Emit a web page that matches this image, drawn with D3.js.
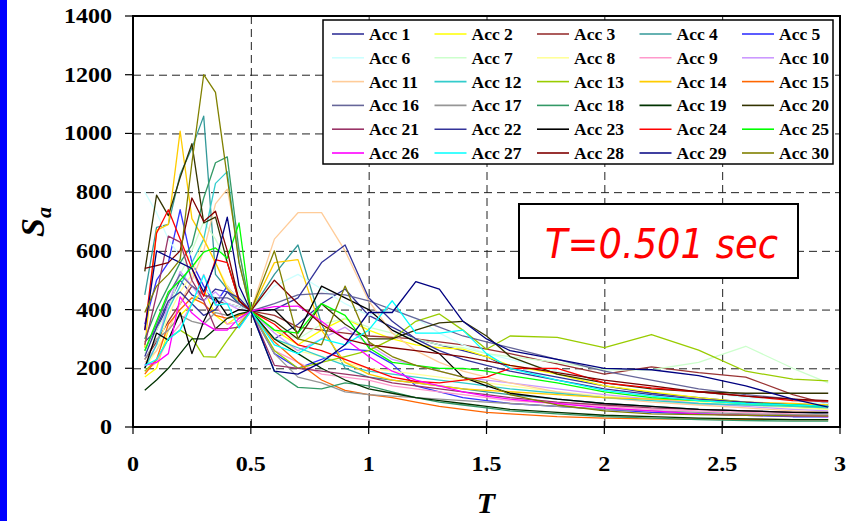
<!DOCTYPE html>
<html>
<head>
<meta charset="utf-8">
<script src="https://cdn.jsdelivr.net/npm/d3@7"></script>
<style>
  body { margin: 0; background: #fff; }
  svg { display: block; }
</style>
</head>
<body>
<svg id="chart" width="846" height="521"></svg>
<script>
// Periods (sec)
const periods = [0.05, 0.1, 0.15, 0.2, 0.25, 0.3, 0.35, 0.4, 0.45, 0.5,
                 0.6, 0.7, 0.8, 0.9, 1.0, 1.1, 1.2, 1.3, 1.4, 1.5,
                 1.6, 1.8, 2.0, 2.2, 2.4, 2.6, 2.8, 2.95];

const seriesNames = d3.range(1, 31).map(i => "Acc " + i);

const seriesColors = [
  "#333399", "#FFFF00", "#993333", "#339999", "#3333FF",
  "#CCFFFF", "#CCFFCC", "#FFFF99", "#FF99CC", "#CC99FF",
  "#FFCC99", "#33CCCC", "#99CC00", "#FFCC00", "#FF6600",
  "#666699", "#969696", "#339966", "#003300", "#333300",
  "#993366", "#333399", "#000000", "#FF0000", "#00FF00",
  "#FF00FF", "#00FFFF", "#800000", "#000080", "#808000"
];

// spectral accelerations, one row per record, scaled to match at T=0.501
const sa = [
  [290, 330, 420, 500, 450, 430, 470, 460, 420, 395, 300, 350, 420, 470, 380, 340, 300, 280, 260, 240, 200, 170, 140, 115, 100, 85, 75, 70],
  [170, 200, 330, 380, 420, 470, 380, 350, 380, 395, 330, 280, 330, 370, 330, 300, 280, 270, 265, 240, 210, 180, 140, 120, 100, 85, 70, 60],
  [230, 290, 360, 420, 480, 450, 430, 420, 410, 395, 380, 340, 330, 320, 310, 305, 300, 290, 280, 265, 250, 215, 180, 205, 185, 170, 110, 78],
  [450, 680, 690, 860, 950, 1059, 520, 470, 420, 395, 520, 620, 350, 200, 170, 160, 150, 140, 130, 120, 110, 95, 80, 70, 60, 55, 50, 45],
  [350, 500, 560, 740, 560, 480, 420, 480, 430, 395, 250, 200, 230, 265, 260, 215, 140, 120, 100, 90, 80, 70, 60, 50, 45, 40, 35, 35],
  [800, 730, 640, 580, 520, 470, 440, 420, 410, 395, 480, 520, 470, 420, 380, 400, 370, 320, 280, 250, 230, 190, 160, 140, 120, 100, 90, 80],
  [250, 330, 400, 520, 600, 700, 640, 560, 460, 395, 330, 300, 350, 370, 340, 320, 300, 280, 270, 250, 240, 220, 195, 195, 220, 275, 200, 150],
  [200, 260, 380, 460, 520, 640, 560, 480, 430, 395, 300, 260, 240, 220, 200, 190, 180, 170, 160, 150, 140, 120, 105, 95, 85, 75, 65, 60],
  [190, 220, 300, 350, 420, 520, 420, 350, 360, 395, 260, 220, 180, 170, 160, 140, 130, 120, 110, 100, 90, 80, 70, 60, 55, 50, 45, 40],
  [210, 280, 420, 530, 480, 430, 460, 420, 400, 395, 320, 260, 300, 340, 280, 230, 210, 190, 170, 160, 150, 130, 110, 95, 80, 70, 60, 55],
  [220, 260, 330, 420, 500, 600, 760, 810, 600, 395, 640, 730, 730, 600, 430, 320, 260, 220, 190, 170, 150, 120, 100, 85, 75, 65, 55, 50],
  [200, 280, 400, 480, 560, 640, 830, 870, 560, 395, 300, 270, 240, 210, 190, 180, 170, 160, 150, 140, 130, 115, 100, 90, 80, 75, 70, 65],
  [190, 230, 300, 330, 305, 240, 238, 295, 350, 395, 260, 200, 220, 240, 260, 300, 360, 385, 330, 265, 310, 305, 270, 315, 262, 190, 163, 157],
  [270, 670, 690, 1008, 710, 640, 560, 470, 430, 395, 560, 570, 330, 220, 180, 160, 150, 140, 130, 125, 120, 110, 100, 95, 90, 85, 80, 75],
  [180, 230, 350, 400, 440, 420, 380, 370, 380, 395, 290, 220, 160, 125, 110, 100, 85, 70, 60, 50, 45, 35, 30, 28, 27, 26, 25, 25],
  [260, 350, 450, 520, 480, 450, 440, 440, 420, 395, 420, 450, 455, 450, 430, 400, 370, 340, 310, 290, 270, 230, 190, 160, 130, 110, 95, 85],
  [230, 300, 330, 380, 360, 350, 390, 380, 370, 395, 250, 170, 150, 120, 110, 105, 100, 95, 90, 85, 80, 70, 60, 55, 50, 45, 42, 40],
  [300, 400, 480, 560, 620, 780, 900, 920, 600, 395, 190, 135, 130, 150, 140, 120, 100, 85, 75, 65, 55, 45, 35, 30, 25, 22, 20, 20],
  [125, 160, 200, 250, 300, 300, 335, 370, 385, 395, 300, 250, 200, 160, 130, 115, 100, 90, 80, 70, 60, 50, 40, 35, 30, 28, 25, 25],
  [530, 790, 720, 850, 965, 695, 715, 560, 430, 395, 360, 300, 420, 350, 300, 300, 330, 355, 360, 310, 240, 180, 150, 130, 120, 115, 115, 115],
  [280, 450, 650, 630, 500, 430, 335, 335, 340, 395, 210, 200, 190, 180, 170, 150, 140, 130, 120, 110, 100, 85, 75, 65, 60, 55, 50, 48],
  [240, 340, 430, 460, 420, 380, 400, 460, 440, 395, 400, 440, 560, 620, 440, 360, 300, 260, 230, 210, 190, 160, 130, 110, 95, 85, 75, 70],
  [200, 320, 296, 390, 250, 360, 440, 380, 400, 395, 400, 320, 480, 440, 400, 330, 290, 250, 170, 140, 115, 95, 80, 70, 60, 55, 50, 50],
  [330, 660, 740, 640, 540, 445, 570, 560, 430, 395, 350, 280, 260, 230, 200, 170, 155, 150, 160, 170, 200, 200, 150, 133, 120, 105, 90, 88],
  [260, 360, 460, 500, 545, 596, 610, 575, 695, 395, 330, 320, 420, 380, 270, 220, 210, 200, 200, 190, 175, 150, 120, 100, 90, 80, 75, 70],
  [210, 220, 250, 443, 388, 354, 330, 330, 370, 395, 410, 412, 360, 300, 240, 190, 160, 140, 120, 105, 95, 80, 65, 55, 45, 40, 38, 35],
  [210, 230, 300, 330, 420, 517, 415, 420, 337, 395, 280, 250, 300, 280, 330, 430, 320, 320, 330, 250, 200, 160, 125, 105, 90, 80, 75, 70],
  [540, 550, 560, 600, 780, 700, 735, 600, 430, 395, 500, 420, 350, 300, 280, 270, 260, 250, 240, 225, 210, 185, 160, 140, 120, 105, 95, 90],
  [330, 600, 580, 560, 540, 460, 560, 715, 480, 395, 190, 180, 220, 280, 390, 390, 495, 470, 360, 300, 260, 230, 200, 195, 175, 140, 95, 68],
  [390, 480, 520, 570, 900, 1200, 1140, 850, 560, 395, 600, 300, 280, 480, 290, 240, 210, 190, 170, 150, 110, 75, 55, 45, 42, 40, 38, 37]
];

const xTicks = [0, 0.5, 1, 1.5, 2, 2.5, 3];
const xTickLabels = ["0", "0.5", "1", "1.5", "2", "2.5", "3"];
const yTicks = [0, 200, 400, 600, 800, 1000, 1200, 1400];

const annotation = "T=0.501 sec";

// layout
const plot = { left: 133, right: 840, top: 16, bottom: 427 };
const serif = "'Liberation Serif', 'Times New Roman', serif";

const svg = d3.select("#chart");

const x = d3.scaleLinear().domain([0, 3]).range([plot.left, plot.right]);
const y = d3.scaleLinear().domain([0, 1400]).range([plot.bottom, plot.top]);

// blue strip on the far left
svg.append("rect")
    .attr("x", 0).attr("y", 0)
    .attr("width", 7).attr("height", 521)
    .attr("fill", "#0000FF");

svg.append("defs").append("clipPath")
    .attr("id", "plot-clip")
    .append("rect")
    .attr("x", plot.left).attr("y", plot.top)
    .attr("width", plot.right - plot.left)
    .attr("height", plot.bottom - plot.top);

// dashed grid
const grid = svg.append("g")
    .attr("stroke", "#222")
    .attr("stroke-width", 1)
    .attr("stroke-dasharray", "8,5");

grid.selectAll("line.h")
    .data(yTicks.slice(1, -1))
    .enter().append("line")
    .attr("x1", plot.left).attr("x2", plot.right)
    .attr("y1", d => y(d) + 0.5).attr("y2", d => y(d) + 0.5);

grid.selectAll("line.v")
    .data(xTicks.slice(1, -1))
    .enter().append("line")
    .attr("y1", plot.top).attr("y2", plot.bottom)
    .attr("x1", d => x(d) + 0.5).attr("x2", d => x(d) + 0.5);

// series
const line = d3.line()
    .x((d, i) => x(periods[i]))
    .y(d => y(d));

svg.append("g")
    .attr("clip-path", "url(#plot-clip)")
    .selectAll("path")
    .data(sa)
    .enter().append("path")
    .attr("d", line)
    .attr("fill", "none")
    .attr("stroke", (d, i) => seriesColors[i])
    .attr("stroke-width", 1.3)
    .attr("stroke-linejoin", "round");

// frame
svg.append("rect")
    .attr("x", plot.left).attr("y", plot.top)
    .attr("width", plot.right - plot.left)
    .attr("height", plot.bottom - plot.top)
    .attr("fill", "none")
    .attr("stroke", "#000")
    .attr("stroke-width", 2);

// y ticks and labels
const yAxis = svg.append("g");
yAxis.selectAll("line")
    .data(yTicks)
    .enter().append("line")
    .attr("x1", plot.left - 8).attr("x2", plot.left)
    .attr("y1", d => y(d)).attr("y2", d => y(d))
    .attr("stroke", "#000").attr("stroke-width", 1.2);

yAxis.selectAll("text")
    .data(yTicks)
    .enter().append("text")
    .attr("transform", d => `translate(112,${y(d) + 7}) scale(1.2,1)`)
    .attr("text-anchor", "end")
    .attr("font-family", serif)
    .attr("font-weight", "bold")
    .attr("font-size", 20)
    .text(d => d);

// x ticks and labels
const xAxis = svg.append("g");
xAxis.selectAll("line")
    .data(xTicks)
    .enter().append("line")
    .attr("x1", d => x(d)).attr("x2", d => x(d))
    .attr("y1", plot.bottom - 6).attr("y2", plot.bottom + 7)
    .attr("stroke", "#000").attr("stroke-width", 1.2);

xAxis.selectAll("text")
    .data(xTicks)
    .enter().append("text")
    .attr("transform", d => `translate(${x(d)},471) scale(1.2,1)`)
    .attr("text-anchor", "middle")
    .attr("font-family", serif)
    .attr("font-weight", "bold")
    .attr("font-size", 20)
    .text((d, i) => xTickLabels[i]);

// axis titles
const yTitle = svg.append("text")
    .attr("transform", "translate(44,222) rotate(-90)")
    .attr("text-anchor", "middle")
    .attr("font-family", serif)
    .attr("font-weight", "bold")
    .attr("font-style", "italic")
    .attr("font-size", 34);
yTitle.append("tspan").text("S");
yTitle.append("tspan").attr("font-size", 22).attr("dy", 7).text("a");

svg.append("text")
    .attr("x", 486).attr("y", 513)
    .attr("text-anchor", "middle")
    .attr("font-family", serif)
    .attr("font-weight", "bold")
    .attr("font-style", "italic")
    .attr("font-size", 30)
    .text("T");

// legend
const legend = svg.append("g");
legend.append("rect")
    .attr("x", 323).attr("y", 20)
    .attr("width", 510).attr("height", 144)
    .attr("fill", "#fff")
    .attr("stroke", "#000")
    .attr("stroke-width", 1.5);

const item = legend.selectAll("g.item")
    .data(seriesNames)
    .enter().append("g")
    .attr("transform", (d, i) => `translate(${332 + (i % 5) * 102.5},${34 + Math.floor(i / 5) * 23.8})`);

item.append("line")
    .attr("x1", 0).attr("x2", 32)
    .attr("stroke", (d, i) => seriesColors[i])
    .attr("stroke-width", 1.6);

item.append("text")
    .attr("x", 37).attr("y", 6)
    .attr("font-family", serif)
    .attr("font-weight", "bold")
    .attr("font-size", 17.5)
    .text(d => d);

// period annotation
svg.append("rect")
    .attr("x", 519).attr("y", 204)
    .attr("width", 279).attr("height", 74)
    .attr("fill", "#fff")
    .attr("stroke", "#000")
    .attr("stroke-width", 2);

svg.append("text")
    .attr("x", 545).attr("y", 258)
    .attr("font-family", "'DejaVu Sans', Verdana, sans-serif")
    .attr("font-style", "italic")
    .attr("font-size", 40)
    .attr("fill", "#FF0000")
    .attr("textLength", 233)
    .attr("lengthAdjust", "spacingAndGlyphs")
    .text(annotation);
</script>
</body>
</html>
